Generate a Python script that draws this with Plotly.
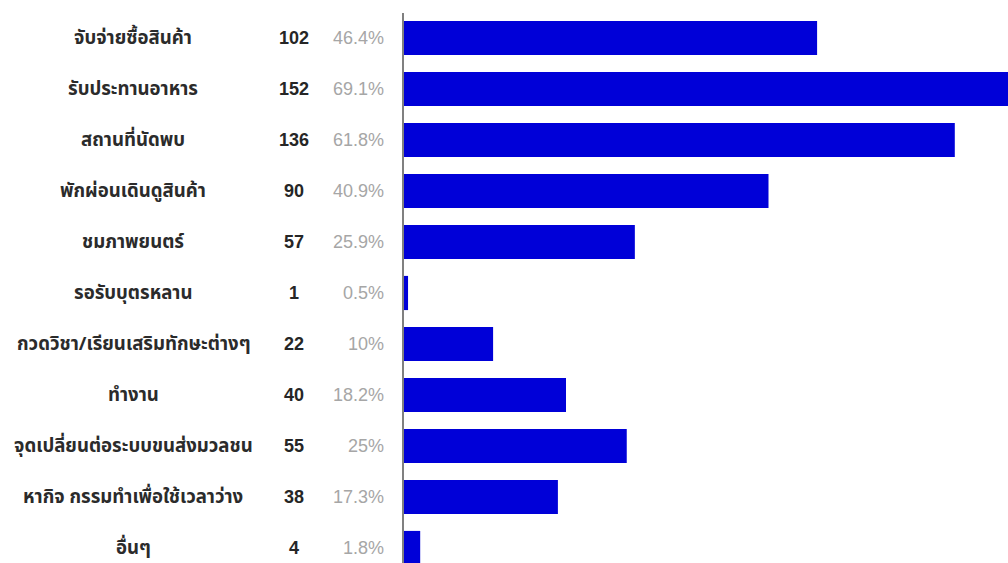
import plotly.graph_objects as go

# Survey: purposes of visiting the site (multiple answers allowed)
categories = [
    "จับจ่ายซื้อสินค้า",
    "รับประทานอาหาร",
    "สถานที่นัดพบ",
    "พักผ่อนเดินดูสินค้า",
    "ชมภาพยนตร์",
    "รอรับบุตรหลาน",
    "กวดวิชา/เรียนเสริมทักษะต่างๆ",
    "ทำงาน",
    "จุดเปลี่ยนต่อระบบขนส่งมวลชน",
    "หากิจ กรรมทำเพื่อใช้เวลาว่าง",
    "อื่นๆ",
]
counts = [102, 152, 136, 90, 57, 1, 22, 40, 55, 38, 4]
percent_labels = ["46.4%", "69.1%", "61.8%", "40.9%", "25.9%", "0.5%",
                  "10%", "18.2%", "25%", "17.3%", "1.8%"]

W, H = 1008, 563
L, T = 404, 13
plot_w = W - L

thai_font = "Tahoma, 'Noto Sans Thai', 'Noto Sans', sans-serif"

fig = go.Figure(
    go.Bar(
        y=categories,
        x=counts,
        orientation="h",
        marker=dict(color="#0000d8", line=dict(width=0)),
        width=0.67,
        hoverinfo="skip",
    )
)

annotations = []
for cat, n, pct in zip(categories, counts, percent_labels):
    annotations.append(dict(
        x=(133 - L) / plot_w, xref="paper", y=cat, yref="y",
        text=f"<b>{cat}</b>", showarrow=False, xanchor="center",
        font=dict(family=thai_font, size=18.6, color="#2b2b2b"),
    ))
    annotations.append(dict(
        x=(294 - L) / plot_w, xref="paper", y=cat, yref="y",
        text=f"<b>{n}</b>", showarrow=False, xanchor="center",
        font=dict(family="Liberation Sans, Arial, sans-serif", size=18, color="#262626"),
    ))
    annotations.append(dict(
        x=(386 - L) / plot_w, xref="paper", y=cat, yref="y",
        text=pct, showarrow=False, xanchor="right",
        font=dict(family="Liberation Sans, Arial, sans-serif", size=18, color="#a6a6a6"),
    ))

row_px = 51.0
top_units = -25 / row_px
bottom_units = top_units + (H - T) / row_px

fig.update_layout(
    width=W, height=H,
    margin=dict(l=L, r=0, t=T, b=0, pad=0),
    paper_bgcolor="white", plot_bgcolor="white",
    showlegend=False,
    bargap=0.33,
    xaxis=dict(range=[0, plot_w / 4.05], visible=False, fixedrange=True),
    yaxis=dict(
        type="category",
        range=[bottom_units, top_units],
        showticklabels=False, ticks="",
        showgrid=False, zeroline=False,
        showline=True, linecolor="#808080", linewidth=2,
        fixedrange=True,
    ),
    annotations=annotations,
)

fig.write_html("out.html")
